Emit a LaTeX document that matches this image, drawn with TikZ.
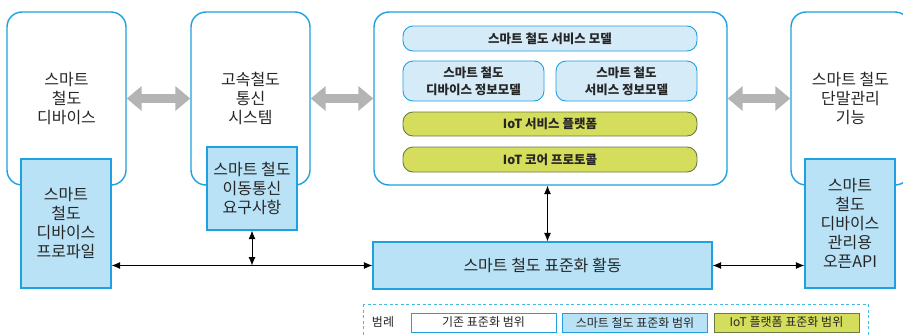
\documentclass[tikz,border=0pt]{standalone}
\usepackage{fontspec}
\setmainfont{Noto Sans CJK KR}
\usetikzlibrary{arrows.meta,positioning}
\definecolor{boxblue}{RGB}{30,160,225}
\definecolor{stdfill}{RGB}{185,226,247}
\definecolor{modelfill}{RGB}{214,235,248}
\definecolor{iotfill}{RGB}{213,221,92}
\definecolor{iotline}{RGB}{105,125,70}
\definecolor{arrowgray}{RGB}{180,180,180}
\definecolor{legendline}{RGB}{70,185,225}
\tikzset{
    oldbox/.style={rectangle, draw=boxblue, line width=1.4pt, rounded corners=15pt,
      fill=white, align=center, font=\fontsize{16}{19}\selectfont},
    stdbox/.style={rectangle, draw=boxblue, line width=1.4pt, fill=stdfill,
      align=center, inner sep=0pt, font=\fontsize{16}{19}\selectfont},
    modelbox/.style={rectangle, draw=boxblue, line width=0.9pt, rounded corners=10pt,
      fill=modelfill, align=center, inner sep=0pt, font=\bfseries\fontsize{12.5}{17}\selectfont},
    iotbox/.style={modelbox, draw=iotline, fill=iotfill},
    legendbox/.style={rectangle, draw=boxblue, line width=1pt, minimum width=145pt,
      minimum height=19pt, inner sep=0pt, font=\fontsize{12}{14}\selectfont},
    wide arrow/.style={draw=arrowgray, line width=9pt,
      {Triangle[width=24pt,length=15pt]}-{Triangle[width=24pt,length=15pt]}},
    thin arrow/.style={line width=0.8pt, {Latex[length=8.5pt,width=7pt]}-{Latex[length=8.5pt,width=7pt]}}
}

\begin{document}
\begin{tikzpicture}[x=1pt, y=-1pt, text=black!85]
 \clip (0,0) rectangle (903,335);
 % existing standards
 \node[oldbox, minimum width=119pt, minimum height=173pt] (dev) at (66.5,98.5) {스마트\\철도\\디바이스};
 \node[oldbox, minimum width=119pt, minimum height=173pt] (net) at (250.5,98.5) {고속철도\\통신\\시스템};
 \node[oldbox, minimum width=353pt, minimum height=173pt] (iot) at (550.5,98.5) {};
 \node[oldbox, minimum width=119pt, minimum height=173pt] (mgmt) at (850.5,98.5) {스마트 철도\\단말관리\\기능};
 \draw[wide arrow] (dev.east) -- (net.west);
 \draw[wide arrow] (net.east) -- (iot.west);
 \draw[wide arrow] (iot.east) -- (mgmt.west);
 % smart railway standards
 \node[stdbox, minimum width=90pt, minimum height=129pt] (prof) at (66,223.5) {스마트\\철도\\디바이스\\프로파일};
 \node[stdbox, minimum width=90pt, minimum height=83pt] (req) at (252,188.5) {스마트 철도\\이동통신\\요구사항};
 \node[stdbox, minimum width=90pt, minimum height=129pt] (api) at (850,223.5) {스마트\\철도\\디바이스\\관리용\\오픈API};
 \node[stdbox, minimum width=339pt, minimum height=47pt] (act) at (542.5,265.5) {스마트 철도 표준화 활동};
 % inside the platform box
 \node[modelbox, minimum width=294pt, minimum height=25pt] (svc) at (550,38.5) {스마트 철도 서비스 모델};
 \node[modelbox, minimum width=141pt, minimum height=40pt] (devinfo) at (473.5,81) {스마트 철도\\디바이스 정보모델};
 \node[modelbox, minimum width=141pt, minimum height=40pt] (svcinfo) at (626.5,81) {스마트 철도\\서비스 정보모델};
 \node[iotbox, minimum width=294pt, minimum height=24pt] (plat) at (550,124) {IoT 서비스 플랫폼};
 \node[iotbox, minimum width=294pt, minimum height=25pt] (core) at (550,159.5) {IoT 코어 프로토콜};
 % thin connectors
 \coordinate (joint) at (req.south |- act.west);
 \draw[thin arrow] (prof.east |- act.west) -- (act.west);
 \draw[thin arrow] (req.south) -- (joint);
 \draw[thin arrow] ([xshift=-3pt]iot.south) -- ([xshift=-3pt]iot.south |- act.north);
 \draw[thin arrow] (act.east) -- (api.west |- act.east);
 % legend
 \draw[legendline, line width=1pt, dash pattern=on 3pt off 2.5pt] (363,304) rectangle (868,350);
 \node[font=\fontsize{12}{14}\selectfont] (legend) at (383,322.5) {범례};
 \node[legendbox, fill=white] (l1) at (483.5,322.5) {기존 표준화 범위};
 \node[legendbox, fill=stdfill] (l2) at (635,322.5) {스마트 철도 표준화 범위};
 \node[legendbox, fill=iotfill, draw=iotline] (l3) at (786.5,322.5) {IoT 플랫폼 표준화 범위};
\end{tikzpicture}
\end{document}
